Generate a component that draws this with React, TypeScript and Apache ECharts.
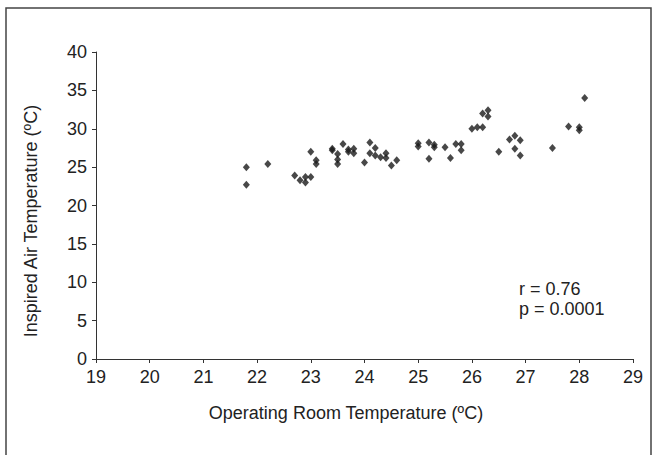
import React, { useEffect, useRef } from "react";
import * as echarts from "echarts";

const roomTemp: number[] = [
  21.8, 21.8, 22.2, 22.7, 22.8, 22.9, 22.9, 23.0, 23.0, 23.1, 23.1, 23.4, 23.4, 23.5, 23.5, 23.5,
  23.6, 23.7, 23.7, 23.8, 23.8, 24.0, 24.1, 24.1, 24.2, 24.2, 24.3, 24.4, 24.4, 24.5, 24.6, 25.0,
  25.0, 25.2, 25.2, 25.3, 25.3, 25.5, 25.6, 25.7, 25.8, 25.8, 26.0, 26.1, 26.2, 26.2, 26.3, 26.3,
  26.5, 26.7, 26.8, 26.9, 26.8, 26.9, 27.5, 27.8, 28.0, 28.0, 28.1,
];
const inspiredTemp: number[] = [
  25.0, 22.7, 25.4, 23.9, 23.3, 23.7, 23.0, 23.7, 27.0, 25.9, 25.4, 27.4, 27.2, 26.7, 26.0, 25.4,
  28.0, 27.3, 27.0, 27.4, 26.8, 25.6, 28.2, 26.8, 27.5, 26.5, 26.3, 26.8, 26.2, 25.2, 25.9, 28.1,
  27.7, 28.2, 26.1, 27.9, 27.6, 27.6, 26.2, 28.0, 28.0, 27.2, 30.0, 30.2, 30.2, 32.0, 32.4, 31.6,
  27.0, 28.6, 29.1, 28.5, 27.4, 26.5, 27.5, 30.3, 30.2, 29.8, 34.0,
];
const xTitle = "Operating Room Temperature (ºC)";
const yTitle = "Inspired Air Temperature (ºC)";
const statLines = ["r = 0.76", "p = 0.0001"];

export default function App() {
  const ref = useRef<HTMLDivElement>(null);
  useEffect(() => {
    if (!ref.current) return;
    const chart = echarts.init(ref.current, undefined, { renderer: "svg" });
    const font = "'Liberation Sans', Arial, sans-serif";
    const txt = "#222";
    chart.setOption({
      animation: false,
      backgroundColor: "#fff",
      textStyle: { fontFamily: font },
      grid: { left: 96, right: 23, top: 52, bottom: 96 },
      xAxis: {
        type: "value",
        min: 19,
        max: 29,
        interval: 1,
        axisLine: { show: true, lineStyle: { color: "#333", width: 1 } },
        axisTick: { show: true, length: 4, lineStyle: { color: "#333" } },
        axisLabel: { color: txt, fontSize: 18, margin: 9, fontFamily: font },
        splitLine: { show: false },
      },
      yAxis: {
        type: "value",
        min: 0,
        max: 40,
        interval: 5,
        axisLine: { show: true, lineStyle: { color: "#333", width: 1 } },
        axisTick: { show: true, length: 4, lineStyle: { color: "#333" } },
        axisLabel: { color: txt, fontSize: 18, margin: 9, fontFamily: font },
        splitLine: { show: false },
      },
      series: [
        {
          type: "scatter",
          symbol: "diamond",
          symbolSize: [7, 8],
          itemStyle: { color: "#1a1a1a" },
          data: roomTemp.map((x, i) => [x, inspiredTemp[i]]),
        },
      ],
      graphic: [
        {
          type: "rect",
          shape: { x: 6, y: 8, width: 645, height: 470 },
          style: { fill: "none", stroke: "#444", lineWidth: 1.5 },
          silent: true,
        },
        {
          type: "text",
          x: 346,
          y: 413,
          style: { text: xTitle, fill: txt, font: `18px ${font}`, align: "center", verticalAlign: "middle" },
        },
        {
          type: "text",
          x: 31,
          y: 221,
          rotation: Math.PI / 2,
          style: { text: yTitle, fill: txt, font: `18px ${font}`, align: "center", verticalAlign: "middle" },
        },
        {
          type: "text",
          x: 519,
          y: 289,
          style: { text: statLines[0], fill: txt, font: `18px ${font}`, align: "left", verticalAlign: "middle" },
        },
        {
          type: "text",
          x: 519,
          y: 309,
          style: { text: statLines[1], fill: txt, font: `18px ${font}`, align: "left", verticalAlign: "middle" },
        },
      ],
    });
    return () => chart.dispose();
  }, []);
  return <div ref={ref} style={{ width: 656, height: 455, position: "fixed", left: 0, top: 0 }} />;
}
